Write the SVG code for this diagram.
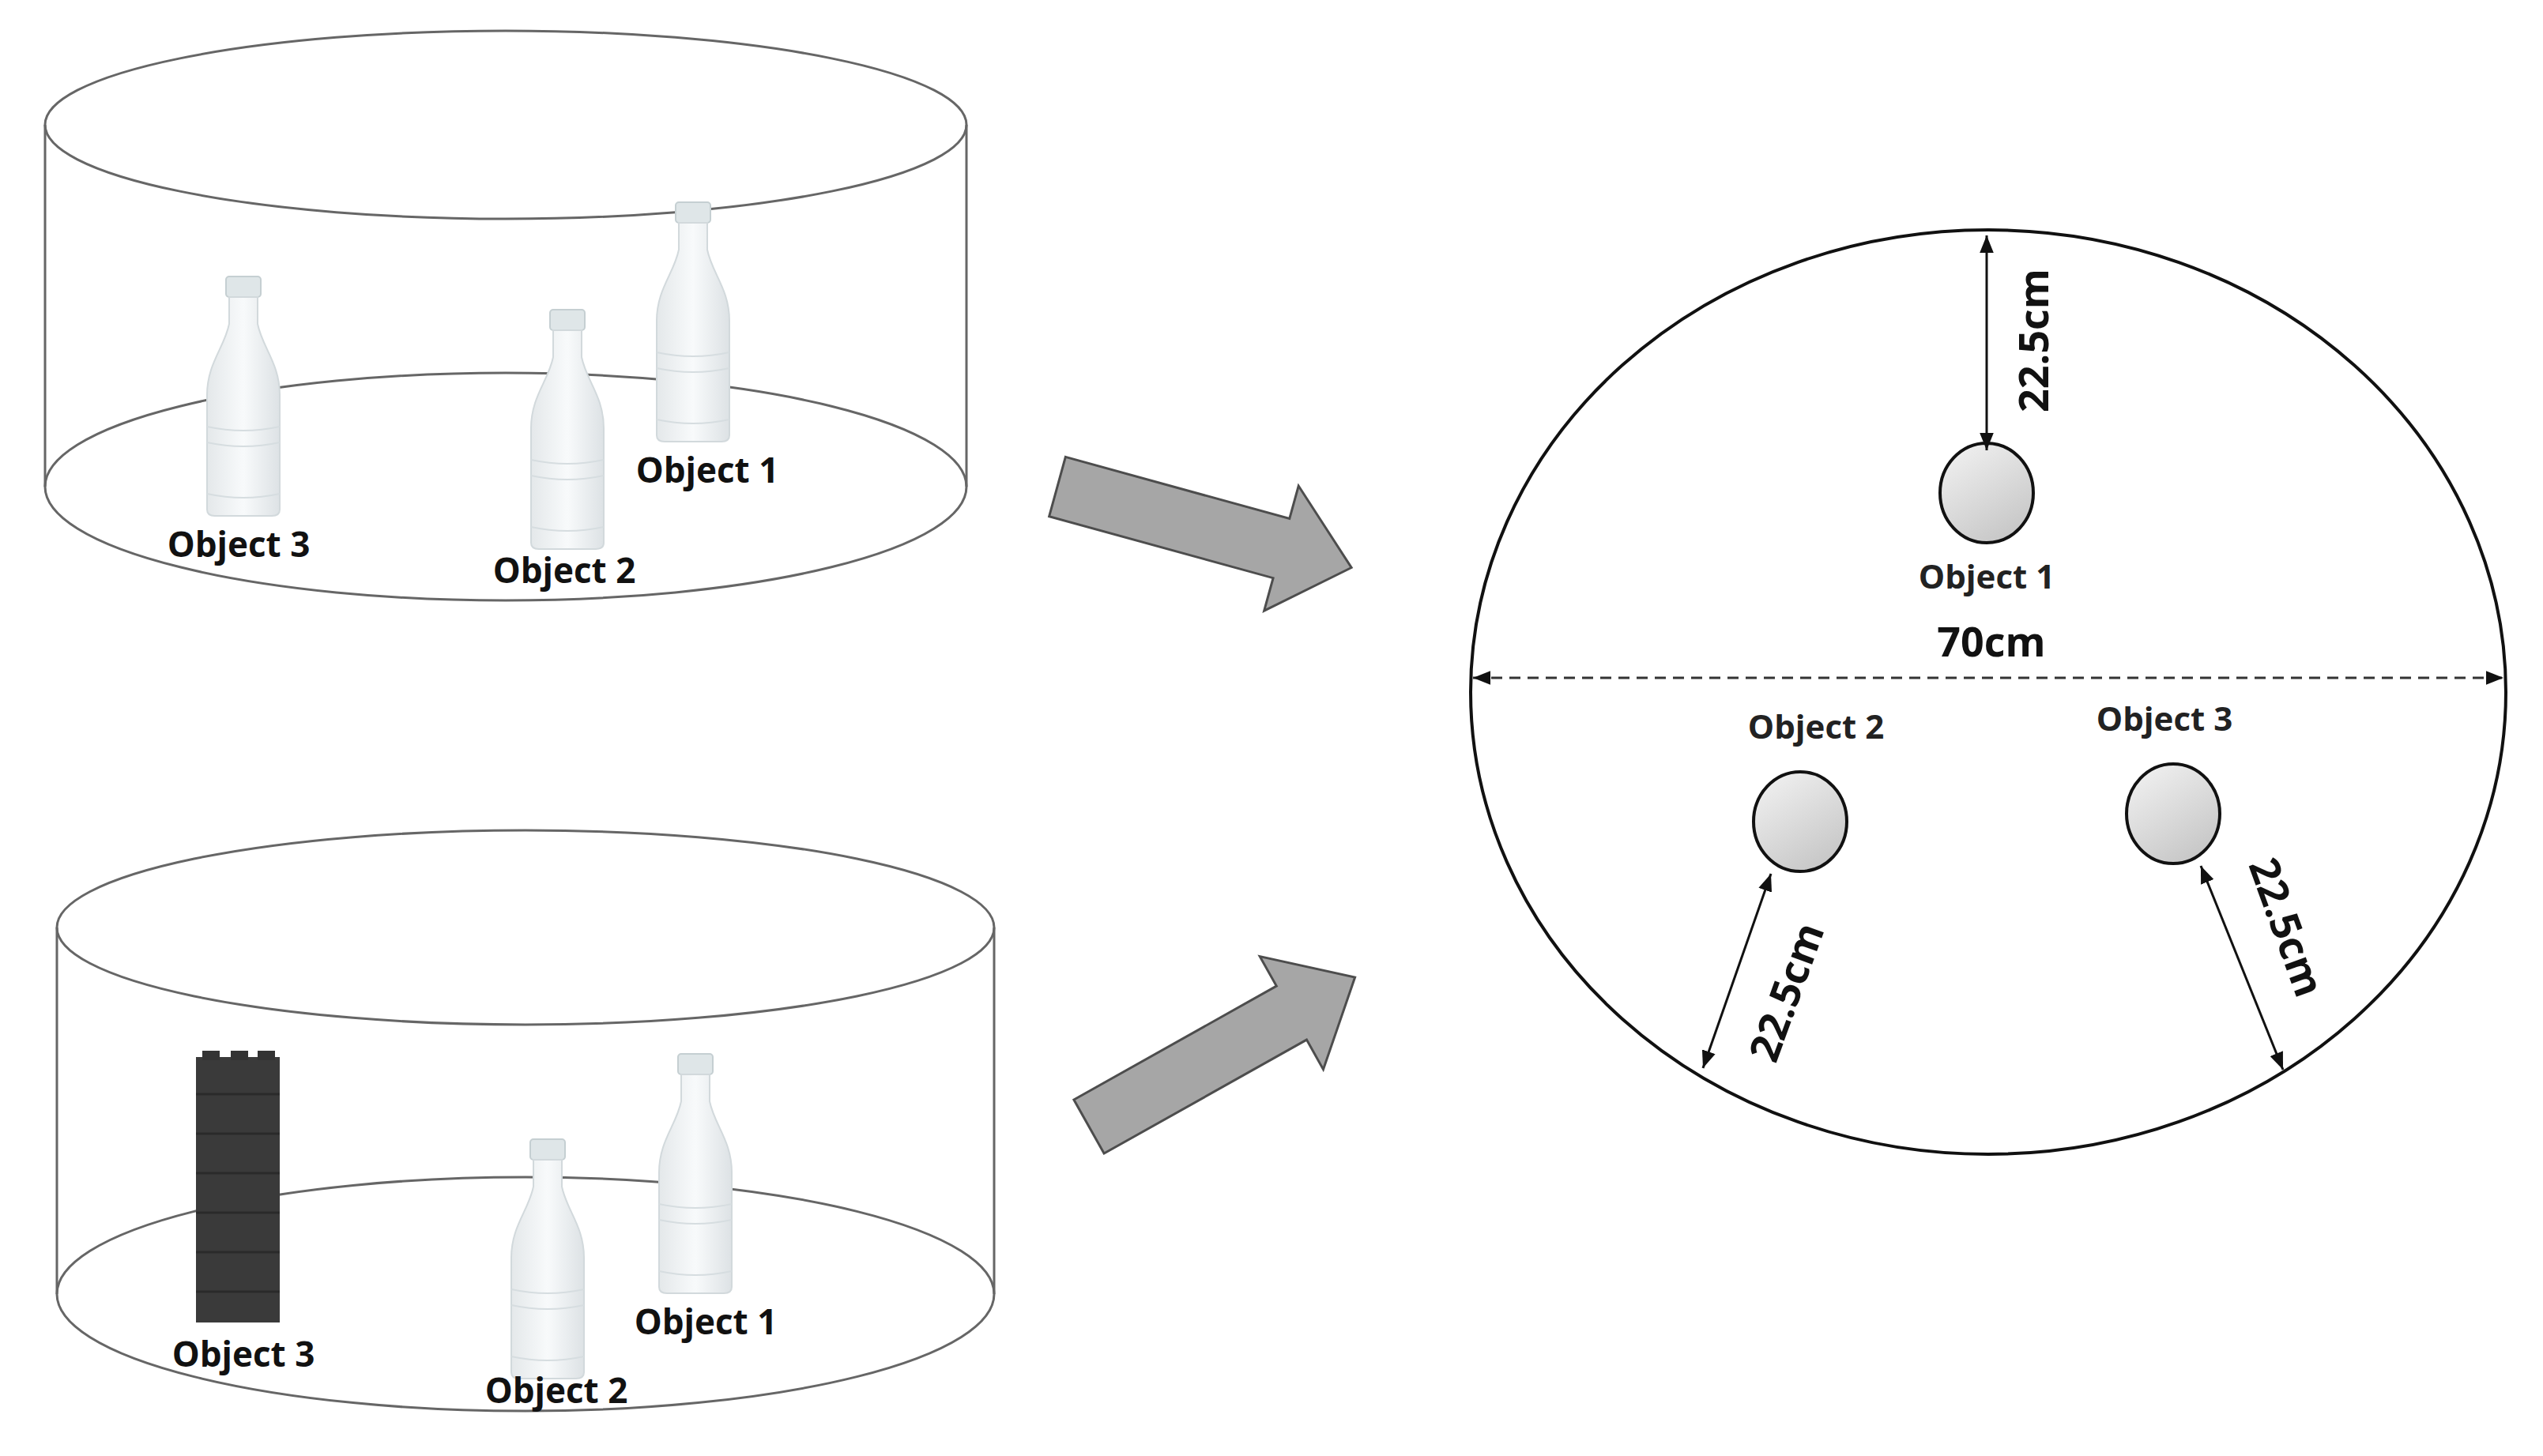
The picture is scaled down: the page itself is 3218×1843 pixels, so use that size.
<svg xmlns="http://www.w3.org/2000/svg" xmlns:xlink="http://www.w3.org/1999/xlink" width="3218" height="1843" viewBox="0 0 3218 1843">
<style>
.cyl{fill:none;stroke:#666;stroke-width:3}
.lbl{font-family:"Open Sans","Liberation Sans",sans-serif;font-weight:bold;font-size:44px;fill:#111;text-anchor:middle}
.lbl2{font-family:"Open Sans","Liberation Sans",sans-serif;font-weight:bold;font-size:42px;fill:#222;text-anchor:middle}
.dim{font-family:"Open Sans","Liberation Sans",sans-serif;font-weight:bold;font-size:52px;fill:#111;text-anchor:middle}
.big{fill:#a6a6a6;stroke:#4d4d4d;stroke-width:3}
.sm{fill:url(#g);stroke:#111;stroke-width:4}
.dl{stroke:#111;stroke-width:3;fill:none}
</style>
<defs>
<linearGradient id="bg" x1="0" x2="1"><stop offset="0" stop-color="#e4e8ea"/><stop offset="0.5" stop-color="#f8fafb"/><stop offset="1" stop-color="#dde2e5"/></linearGradient>
<linearGradient id="g" x1="0" y1="0" x2="0.6" y2="1"><stop offset="0" stop-color="#f4f4f4"/><stop offset="1" stop-color="#c8c8c8"/></linearGradient>
<g id="bottle">
<rect x="-22" y="0" width="44" height="26" rx="4" fill="#dfe6e8" stroke="#c5cfd2" stroke-width="2"/>
<path d="M-18 26 L18 26 L18 60 C24 90 46 110 46 150 L46 295 Q46 303 36 303 L-36 303 Q-46 303 -46 295 L-46 150 C-46 110 -24 90 -18 60 Z" fill="url(#bg)" stroke="#d2d9dc" stroke-width="2"/>
<path d="M-46 190 Q0 200 46 190 M-46 210 Q0 220 46 210 M-46 275 Q0 285 46 275" stroke="#d6dde0" stroke-width="2" fill="none"/>
</g>
<marker id="ah" viewBox="0 0 10 10" refX="10" refY="5" markerWidth="8" markerHeight="8" orient="auto-start-reverse" markerUnits="userSpaceOnUse"><path d="M0 0 L10 5 L0 10 Z" fill="#111"/></marker>
<marker id="ah2" viewBox="0 0 10 10" refX="10" refY="5" markerWidth="22" markerHeight="22" orient="auto-start-reverse" markerUnits="userSpaceOnUse"><path d="M0 1 L10 5 L0 9 Z" fill="#111"/></marker>
</defs>
<rect width="3218" height="1843" fill="#fff"/>

<g id="cylinder-top">
<ellipse class="cyl" cx="640" cy="158" rx="583" ry="119"/>
<path class="cyl" d="M57 158 L57 616 M1223 158 L1223 616"/>
<ellipse class="cyl" cx="640" cy="616" rx="583" ry="144"/>
<use xlink:href="#bottle" transform="translate(308,350)"/>
<use xlink:href="#bottle" transform="translate(718,392)"/>
<use xlink:href="#bottle" transform="translate(877,256)"/>
<text class="lbl" x="302" y="705">Object 3</text>
<text class="lbl" x="714" y="738">Object 2</text>
<text class="lbl" x="895" y="611">Object 1</text>
</g>

<g id="cylinder-bottom">
<ellipse class="cyl" cx="665" cy="1174" rx="593" ry="123"/>
<path class="cyl" d="M72 1174 L72 1638 M1258 1174 L1258 1638"/>
<ellipse class="cyl" cx="665" cy="1638" rx="593" ry="148"/>
<g id="block">
<rect x="248" y="1338" width="106" height="336" fill="#3a3a3a"/>
<rect x="256" y="1330" width="22" height="12" fill="#333"/><rect x="292" y="1330" width="22" height="12" fill="#333"/><rect x="326" y="1330" width="22" height="12" fill="#333"/>
<path d="M248 1385 H354 M248 1435 H354 M248 1485 H354 M248 1535 H354 M248 1585 H354 M248 1635 H354" stroke="#2a2a2a" stroke-width="3"/>
</g>
<use xlink:href="#bottle" transform="translate(693,1442)"/>
<use xlink:href="#bottle" transform="translate(880,1334)"/>
<text class="lbl" x="308" y="1730">Object 3</text>
<text class="lbl" x="704" y="1776">Object 2</text>
<text class="lbl" x="893" y="1689">Object 1</text>
</g>

<g id="connectors">
<path class="big" transform="translate(1338,616) rotate(15.4)" d="M0 -39 L294 -39 L294 -82 L386 0 L294 82 L294 39 L0 39 Z"/>
<path class="big" transform="translate(1378,1426) rotate(-29.3)" d="M0 -39 L294 -39 L294 -82 L386 0 L294 82 L294 39 L0 39 Z"/>
</g>

<g id="plan">
<ellipse cx="2516" cy="876" rx="655" ry="585" fill="none" stroke="#111" stroke-width="4"/>
<line x1="1864" y1="858" x2="3168" y2="858" stroke="#333" stroke-width="3" stroke-dasharray="14 9" marker-start="url(#ah2)" marker-end="url(#ah2)"/>
<text class="dim" x="2520" y="831">70cm</text>
<ellipse class="sm" cx="2514" cy="624" rx="59" ry="63"/>
<ellipse class="sm" cx="2278" cy="1040" rx="59" ry="63"/>
<ellipse class="sm" cx="2750" cy="1030" rx="59" ry="63"/>
<text class="lbl2" x="2514" y="745">Object 1</text>
<text class="lbl2" x="2298" y="935">Object 2</text>
<text class="lbl2" x="2739" y="925">Object 3</text>
<line class="dl" x1="2514" y1="298" x2="2514" y2="570" marker-start="url(#ah2)" marker-end="url(#ah2)"/>
<line class="dl" x1="2155" y1="1352" x2="2241" y2="1106" marker-start="url(#ah2)" marker-end="url(#ah2)"/>
<line class="dl" x1="2785" y1="1096" x2="2889" y2="1354" marker-start="url(#ah2)" marker-end="url(#ah2)"/>
<text class="dim" transform="translate(2592,431) rotate(-90)">22.5cm</text>
<text class="dim" transform="translate(2278,1262) rotate(-70)">22.5cm</text>
<text class="dim" transform="translate(2876,1180) rotate(70)">22.5cm</text>
</g>
</svg>
